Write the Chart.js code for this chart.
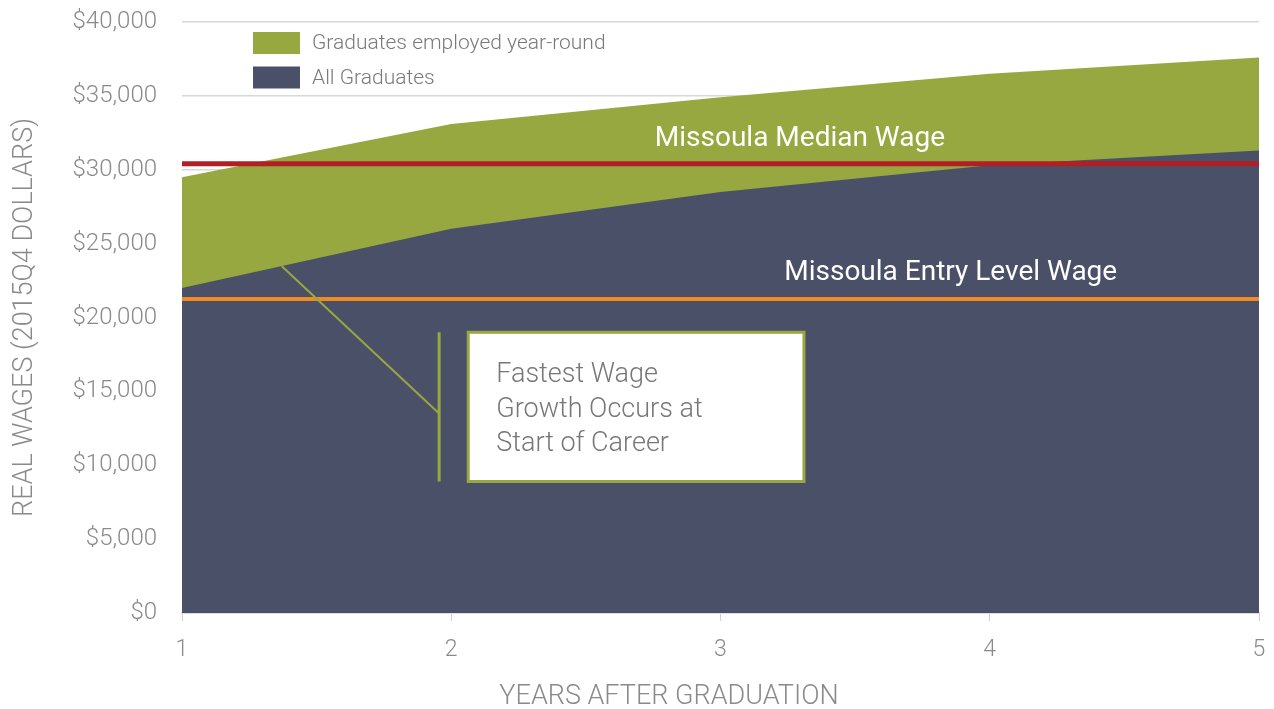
<!DOCTYPE html>
<html>
<head>
<meta charset="utf-8">
<title>Real wages after graduation</title>
<script src="https://cdn.jsdelivr.net/npm/chart.js@4.4.0/dist/chart.umd.min.js"></script>
<style>
    body { margin: 0; background: #fff; }
    .chart-wrap { position: relative; width: 1274px; height: 709px; }
</style>
</head>
<body>
<div class="chart-wrap"><canvas id="wageChart"></canvas></div>
<script>
// Years after graduation
const years = [1, 2, 3, 4, 5];

// Real wages (2015Q4 dollars)
const employedYearRound = [29500, 33100, 34900, 36500, 37600];
const allGraduates = [22000, 26000, 28500, 30300, 31300];

// Missoula reference wages
const medianWage = 30400;
const entryLevelWage = 21250;

const yTicks = [0, 5000, 10000, 15000, 20000, 25000, 30000, 35000, 40000];
const calloutText = ['Fastest Wage', 'Growth Occurs at', 'Start of Career'];

const GREEN = '#96a83f';
const NAVY = '#4a5068';
const RED = '#b01f24';
const ORANGE = '#f28a22';
const GREY = '#8a8a8a';
const FONT = 'Roboto, "Liberation Sans", sans-serif';

function toPoints(values) {
    return years.map(function(yr, i) { return { x: yr, y: values[i] }; });
}

function flat(value) {
    return years.map(function(yr) { return { x: yr, y: value }; });
}

// Legend drawn inside the plot area, top left
const innerLegend = {
    id: 'innerLegend',
    afterDatasetsDraw(chart) {
        const ctx = chart.ctx;
        const left = chart.chartArea.left + 71;
        const rows = [
            { color: GREEN, label: 'Graduates employed year-round', y: 43 },
            { color: NAVY, label: 'All Graduates', y: 77.5 }
        ];
        ctx.save();
        ctx.font = '300 21px ' + FONT;
        ctx.textBaseline = 'middle';
        rows.forEach(function(r) {
            ctx.fillStyle = r.color;
            ctx.fillRect(left, r.y - 11, 47, 22);
            ctx.fillStyle = '#7a7a7a';
            ctx.fillText(r.label, left + 59, r.y + 1);
        });
        ctx.restore();
    }
};

// Wage line labels, callout box and x axis title
const annotations = {
    id: 'annotations',
    afterDatasetsDraw(chart) {
        const ctx = chart.ctx;
        const x = chart.scales.x;
        const y = chart.scales.y;

        ctx.save();
        ctx.fillStyle = '#fff';
        ctx.font = '400 28px ' + FONT;
        ctx.textAlign = 'center';
        ctx.textBaseline = 'middle';
        ctx.fillText('Missoula Median Wage', x.getPixelForValue(3.295), y.getPixelForValue(medianWage) - 25);
        ctx.fillText('Missoula Entry Level Wage', x.getPixelForValue(3.855), y.getPixelForValue(entryLevelWage) - 26);

        // pointer from the all-graduates edge down to the bracket
        const startX = 1.37;
        const startY = allGraduates[0] + (allGraduates[1] - allGraduates[0]) * (startX - years[0]);
        const bracketX = 1.955;
        ctx.strokeStyle = GREEN;
        ctx.lineWidth = 2;
        ctx.beginPath();
        ctx.moveTo(x.getPixelForValue(startX), y.getPixelForValue(startY));
        ctx.lineTo(x.getPixelForValue(bracketX), y.getPixelForValue(13500));
        ctx.stroke();

        ctx.lineWidth = 3;
        ctx.beginPath();
        ctx.moveTo(x.getPixelForValue(bracketX), y.getPixelForValue(19000));
        ctx.lineTo(x.getPixelForValue(bracketX), y.getPixelForValue(8900));
        ctx.stroke();

        // callout box
        const bx1 = x.getPixelForValue(2.063);
        const bx2 = x.getPixelForValue(3.31);
        const by1 = y.getPixelForValue(19000);
        const by2 = y.getPixelForValue(8900);
        ctx.fillStyle = '#fff';
        ctx.fillRect(bx1, by1, bx2 - bx1, by2 - by1);
        ctx.strokeRect(bx1, by1, bx2 - bx1, by2 - by1);

        ctx.fillStyle = '#777';
        ctx.font = '300 27px ' + FONT;
        ctx.textAlign = 'left';
        calloutText.forEach(function(line, i) {
            ctx.fillText(line, bx1 + 28, by1 + 43 + i * 34.5);
        });

        // x axis title sits left of the plot centre in the original
        ctx.fillStyle = GREY;
        ctx.font = '300 27px ' + FONT;
        ctx.textAlign = 'center';
        ctx.fillText('YEARS AFTER GRADUATION', 669, chart.height - 12);
        ctx.restore();
    }
};

const wageChart = new Chart(document.getElementById('wageChart'), {
    type: 'line',
    data: {
        datasets: [
            {
                label: 'Missoula Median Wage',
                data: flat(medianWage),
                borderColor: RED,
                borderWidth: 5,
                borderCapStyle: 'round',
                pointRadius: 0,
                fill: false,
                order: 0
            },
            {
                label: 'Missoula Entry Level Wage',
                data: flat(entryLevelWage),
                borderColor: ORANGE,
                borderWidth: 4,
                borderCapStyle: 'round',
                pointRadius: 0,
                fill: false,
                order: 0
            },
            {
                label: 'All Graduates',
                data: toPoints(allGraduates),
                backgroundColor: NAVY,
                borderWidth: 0,
                pointRadius: 0,
                fill: 'origin',
                order: 1
            },
            {
                label: 'Graduates employed year-round',
                data: toPoints(employedYearRound),
                backgroundColor: GREEN,
                borderWidth: 0,
                pointRadius: 0,
                fill: 'origin',
                order: 2
            }
        ]
    },
    options: {
        responsive: true,
        maintainAspectRatio: false,
        animation: false,
        layout: { padding: { top: 22, right: 15, left: 0, bottom: 0 } },
        plugins: {
            legend: { display: false },
            tooltip: { enabled: false }
        },
        scales: {
            x: {
                type: 'linear',
                min: years[0],
                max: years[years.length - 1],
                afterBuildTicks: function(scale) {
                    scale.ticks = years.map(function(v) { return { value: v }; });
                },
                afterFit: function(scale) {
                    scale.height = 96;
                    scale.paddingLeft = 0;
                    scale.paddingRight = 0;
                },
                grid: {
                    drawOnChartArea: false,
                    drawTicks: true,
                    tickLength: 8,
                    tickColor: '#d0d0d0'
                },
                border: { display: true, color: '#d0d0d0', width: 1.5 },
                ticks: {
                    color: GREY,
                    padding: 15,
                    font: { family: FONT, size: 23, weight: '300' }
                }
            },
            y: {
                min: 0,
                max: 40000,
                afterBuildTicks: function(scale) {
                    scale.ticks = yTicks.map(function(v) { return { value: v }; });
                },
                afterFit: function(scale) {
                    scale.width = 182;
                    scale.paddingTop = 0;
                    scale.paddingBottom = 0;
                },
                grid: {
                    color: '#d8d8d8',
                    lineWidth: 1.5,
                    drawTicks: false
                },
                border: { display: false },
                ticks: {
                    color: GREY,
                    padding: 25,
                    font: { family: FONT, size: 24, weight: '300' },
                    callback: function(v) { return '$' + v.toLocaleString('en-US'); }
                },
                title: {
                    display: true,
                    text: 'REAL WAGES (2015Q4 DOLLARS)',
                    color: GREY,
                    padding: { top: 9, bottom: 0 },
                    font: { family: FONT, size: 27, weight: '300' }
                }
            }
        }
    },
    plugins: [innerLegend, annotations]
});
</script>
</body>
</html>
